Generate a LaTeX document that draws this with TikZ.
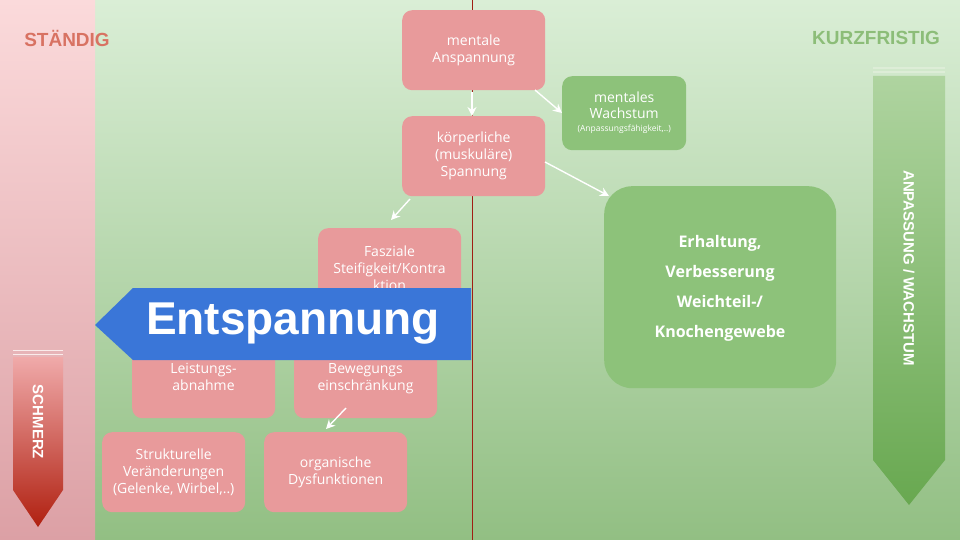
\documentclass[tikz,border=0pt]{standalone}
\usepackage{fontspec}
\setmainfont{Open Sans}
\newfontfamily\headfont{Liberation Sans}
\usetikzlibrary{arrows.meta}
\definecolor{pinkbox}{HTML}{E89A9B}
\definecolor{greenbox}{HTML}{8DC27A}
\definecolor{bluearr}{HTML}{3A76D8}
\definecolor{bgtop}{RGB}{218,238,214}
\definecolor{bgbot}{RGB}{146,191,131}
\definecolor{ptop}{RGB}{251,218,219}
\definecolor{pbot}{RGB}{220,160,165}
\definecolor{redline}{RGB}{160,30,20}
\definecolor{sttext}{RGB}{216,114,98}
\definecolor{kftext}{RGB}{140,189,120}
\definecolor{satop}{RGB}{240,170,170}
\definecolor{sabot}{RGB}{176,32,16}
\definecolor{gatop}{RGB}{175,212,160}
\definecolor{gabot}{RGB}{104,168,80}
\begin{document}
\begin{tikzpicture}[x=1pt,y=-1pt,
  pbox/.style={fill=pinkbox,rounded corners=10pt,text=white,align=center,font=\fontsize{14}{17}\selectfont,minimum width=143pt,minimum height=80pt,inner sep=2pt,anchor=north west},
  gbox/.style={fill=greenbox,rounded corners=10pt,text=white,align=center},
  hd/.style={font=\headfont\bfseries\fontsize{19}{22}\selectfont},
  vt/.style={rotate=-90,text=white,font=\headfont\bfseries\fontsize{15}{18}\selectfont},
  wa/.style={draw=white,line width=1.4pt,-{Stealth[length=9pt,width=9pt]}}]
\useasboundingbox (0,0) rectangle (960,540);
\shade[top color=bgtop,bottom color=bgbot] (0,0) rectangle (960,540);
\shade[top color=ptop,bottom color=pbot] (0,0) rectangle (95,540);
\draw[redline,line width=0.8pt] (472,0) -- (472,540);
\node[hd,text=sttext] (st) at (67,38) {STÄNDIG};
\node[hd,text=kftext] (kf) at (876,38) {KURZFRISTIG};
% left arrow
\draw[white!80!pinkbox,line width=1pt] (13,350)--(63,350) (13,354)--(63,354);
\shade[top color=satop,bottom color=sabot] (13,357) -- (63,357) -- (63,490) -- (38,527) -- (13,490) -- cycle;
\node[vt] (sch) at (38,422) {SCHMERZ};
% right arrow
\draw[white!70!greenbox,line width=1.2pt] (873,68)--(945,68) (873,72)--(945,72);
\shade[top color=gatop,bottom color=gabot] (873,76) -- (945,76) -- (945,460) -- (909,505) -- (873,460) -- cycle;
\node[vt] (aw) at (909,268) {ANPASSUNG / WACHSTUM};
% boxes
\node[pbox] (ma) at (402,10) {mentale\\Anspannung};
\node[pbox] (ks) at (402,116) {körperliche\\(muskuläre)\\Spannung};
\node[gbox,minimum width=124pt,minimum height=74pt,anchor=north west,font=\fontsize{14}{16}\selectfont] (mw) at (562,76) {mentales\\Wachstum\\[-3pt]{\fontsize{8.5}{9}\selectfont(Anpassungsfähigkeit,..)}};
\node[gbox,rounded corners=28pt,minimum width=232pt,minimum height=202pt,anchor=north west] (eh) at (604,186) {};
\node[text=white,align=center,font=\bfseries\fontsize{16}{30}\selectfont] (eht) at (720,288) {Erhaltung,\\Verbesserung\\Weichteil-/\\Knochengewebe};
\node[pbox] (fs) at (318,228) {};
\node[text=white,font=\fontsize{14}{17}\selectfont,align=center,anchor=north] (fst) at (389.5,242) {Fasziale\\Steifigkeit/Kontra\\ktion};
\node[pbox] (la) at (132,338) {};
\node[text=white,font=\fontsize{14}{17}\selectfont,align=center,anchor=north] (lat) at (203.5,360) {Leistungs-\\abnahme};
\node[pbox] (be) at (294,338) {};
\node[text=white,font=\fontsize{14}{17}\selectfont,align=center,anchor=north] (bet) at (365.5,360) {Bewegungs\\einschränkung};
\node[pbox] (sv) at (102,432) {Strukturelle\\Veränderungen\\(Gelenke, Wirbel,..)};
\node[pbox] (od) at (264,432) {organische\\Dysfunktionen};
% blue arrow
\fill[bluearr] (95,325) -- (133,288) -- (471,288) -- (471,360) -- (133,360) -- cycle;
\node[text=white,font=\headfont\bfseries\fontsize{46}{50}\selectfont] (ent) at (293,324) {Entspannung};
% connectors
\coordinate (c1s) at (472,92); \coordinate (c1e) at (472,116);
\coordinate (c2s) at (535,90); \coordinate (c2e) at (562,113);
\coordinate (c3s) at (545,162); \coordinate (c3e) at (609,196);
\coordinate (c4s) at (410,199); \coordinate (c4e) at (391,220);
\coordinate (c5s) at (346,408); \coordinate (c5e) at (326,429);
\draw[wa] (c1s) -- (c1e);
\draw[wa] (c2s) -- (c2e);
\draw[wa] (c3s) -- (c3e);
\draw[wa] (c4s) -- (c4e);
\draw[wa] (c5s) -- (c5e);
\end{tikzpicture}
\end{document}
